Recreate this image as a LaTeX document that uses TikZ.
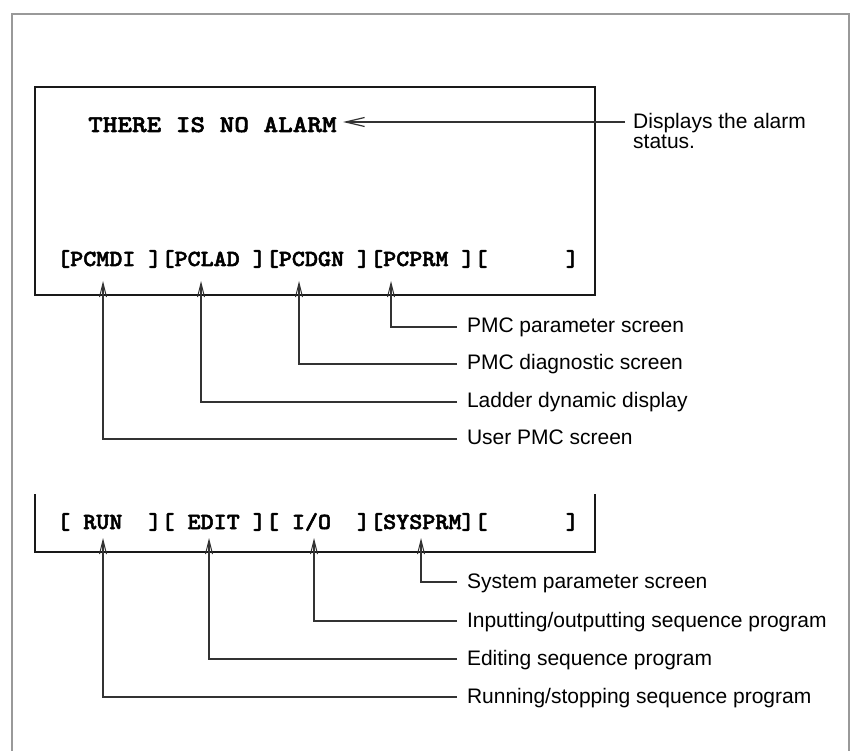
\documentclass[tikz,border=0pt]{standalone}
\usepackage{fontspec}
\setmainfont{Liberation Sans}
\newfontfamily\scrfont{lmmonolt10-bold.otf}[FakeBold=2.2,FakeStretch=1.08]
\newfontfamily\alarmfont{lmmonolt10-bold.otf}[FakeBold=2.2,FakeStretch=1.16]
\usetikzlibrary{arrows.meta}
\begin{document}
\begin{tikzpicture}[x=1pt,y=-1pt,
  frame/.style={draw=black!40, line width=2pt},
  screen/.style={draw=black!90, line width=2.2pt},
  conn/.style={draw=black!80, line width=1.3pt},
  uptip/.style={-{Straight Barb[length=14pt,width=7pt,line width=1pt]}},
  lefttip/.style={-{Straight Barb[length=19pt,width=9pt,line width=1.2pt]}},
  lab/.style={anchor=west, font=\fontsize{21}{24}\selectfont, text height=16pt, text depth=4pt, inner xsep=10pt, inner ysep=0pt, outer sep=0pt},
  scrrow/.style={anchor=base west, inner sep=0pt, font=\fontsize{23}{28}\selectfont\scrfont},
  alarmtxt/.style={anchor=base west, inner sep=0pt, font=\fontsize{24}{30}\selectfont\alarmfont}
]
\useasboundingbox (0,0) rectangle (852,751);
% outer frame
\draw[frame] (12,751) -- (12,14) -- (849,14) -- (849,751);
% screens
\draw[screen] (35,87) rectangle (595,295);
\draw[screen] (35,494) -- (35,552) -- (595,552) -- (595,494);
% alarm
\node[alarmtxt] (alarm) at (88,132) {THERE~IS~NO~ALARM};
\coordinate (alarmtip) at (343,122);
\node[anchor=north west, align=left, inner sep=0pt, font=\fontsize{21}{20.5}\selectfont] (dlab) at (633,113) {Displays the alarm\\status.};
\coordinate (dfrom) at (625,122);
\draw[conn, lefttip] (dfrom) -- (alarmtip);
% top soft keys
\node[scrrow] (row1) at (57,266) {[PCMDI~][PCLAD~][PCDGN~][PCPRM~][~~~~~~]};
\coordinate (a1) at (103,281);
\coordinate (a2) at (201,281);
\coordinate (a3) at (299,281);
\coordinate (a4) at (391,281);
\node[lab] (l4) at (457,327) {PMC parameter screen};
\node[lab] (l3) at (457,364) {PMC diagnostic screen};
\node[lab] (l2) at (457,402) {Ladder dynamic display};
\node[lab] (l1) at (457,439) {User PMC screen};
\draw[conn, uptip] (l4.west) -| (a4);
\draw[conn, uptip] (l3.west) -| (a3);
\draw[conn, uptip] (l2.west) -| (a2);
\draw[conn, uptip] (l1.west) -| (a1);
% bottom soft keys
\node[scrrow] (row2) at (57,529) {[~RUN~~][~EDIT~][~I/O~~][SYSPRM][~~~~~~]};
\coordinate (b1) at (103,538);
\coordinate (b2) at (209,538);
\coordinate (b3) at (314,538);
\coordinate (b4) at (421,538);
\node[lab] (m4) at (457,582) {System parameter screen};
\node[lab] (m3) at (457,621) {Inputting/outputting sequence program};
\node[lab] (m2) at (457,659) {Editing sequence program};
\node[lab] (m1) at (457,697) {Running/stopping sequence program};
\draw[conn, uptip] (m4.west) -| (b4);
\draw[conn, uptip] (m3.west) -| (b3);
\draw[conn, uptip] (m2.west) -| (b2);
\draw[conn, uptip] (m1.west) -| (b1);
\end{tikzpicture}
\end{document}
